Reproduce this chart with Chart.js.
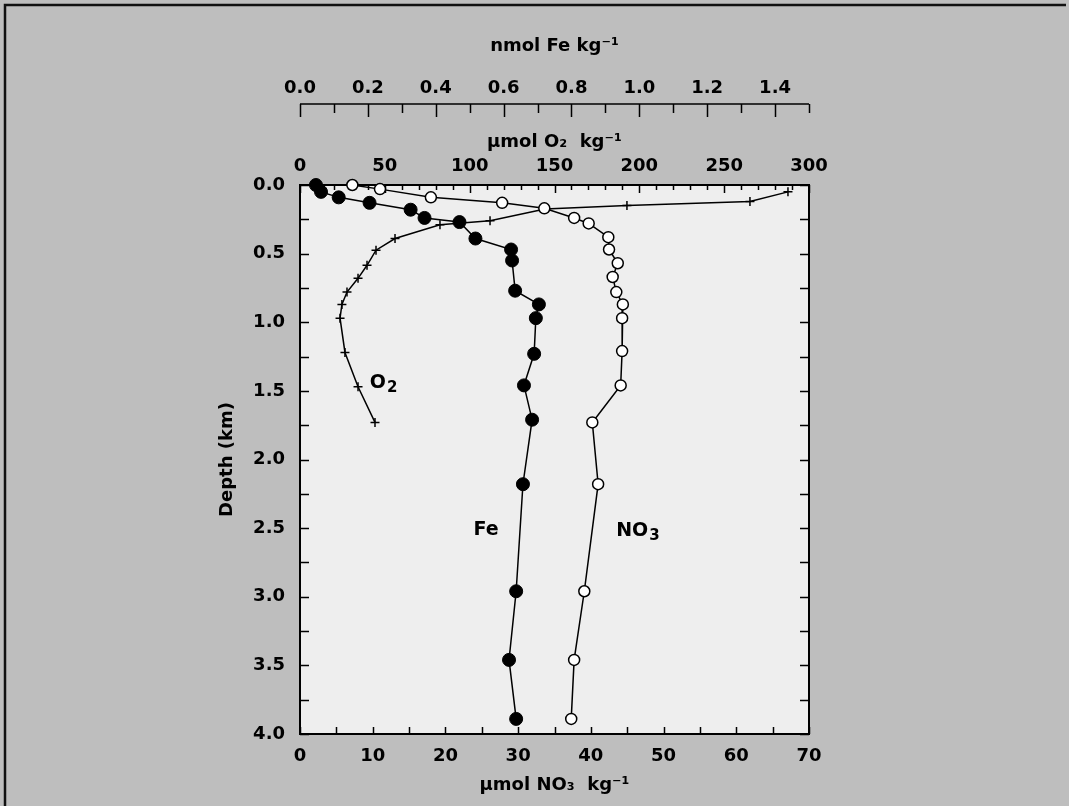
<!DOCTYPE html>
<html>
<head>
<meta charset="utf-8">
<script src="https://cdn.jsdelivr.net/npm/chart.js@4.4.1/dist/chart.umd.min.js"></script>
<style>
  html, body { margin: 0; padding: 0; background: #bebebe; }
  #wrap { width: 1069px; height: 806px; position: relative; }
</style>
</head>
<body>
<div id="wrap"><canvas id="c"></canvas></div>
<script>
// ---------- data ----------
const depthTicks = [0, 0.5, 1, 1.5, 2, 2.5, 3, 3.5, 4];
const no3Ticks = [0, 10, 20, 30, 40, 50, 60, 70];
const o2Ticks = [0, 50, 100, 150, 200, 250, 300];
const feTicks = [0, 0.2, 0.4, 0.6, 0.8, 1.0, 1.2, 1.4];

// Fe (nmol/kg) vs depth (km)
const feDepth  = [0.00, 0.05, 0.09, 0.13, 0.18, 0.24, 0.27, 0.39, 0.47, 0.55, 0.77, 0.87, 0.97, 1.23, 1.46, 1.71, 2.18, 2.96, 3.46, 3.89];
const feValues = [0.047, 0.062, 0.114, 0.205, 0.326, 0.367, 0.470, 0.517, 0.622, 0.625, 0.634, 0.704, 0.695, 0.690, 0.660, 0.684, 0.657, 0.637, 0.616, 0.637];

// NO3 (umol/kg) vs depth (km)
const no3Depth  = [0.00, 0.03, 0.09, 0.13, 0.17, 0.24, 0.28, 0.38, 0.47, 0.57, 0.67, 0.78, 0.87, 0.97, 1.21, 1.46, 1.73, 2.18, 2.96, 3.46, 3.89];
const no3Values = [7.2, 11.0, 18.0, 27.8, 33.6, 37.7, 39.7, 42.4, 42.5, 43.7, 43.0, 43.5, 44.4, 44.3, 44.3, 44.1, 40.2, 41.0, 39.1, 37.7, 37.3];

// O2 (umol/kg) vs depth (km)
const o2Depth  = [0.05, 0.12, 0.15, 0.175, 0.26, 0.29, 0.39, 0.475, 0.585, 0.68, 0.78, 0.87, 0.97, 1.22, 1.47, 1.73];
const o2Values = [287.6, 265.2, 192.7, 144.4, 112.0, 82.5, 56.0, 44.8, 39.5, 34.2, 27.7, 24.7, 23.6, 26.5, 34.2, 44.2];

// ---------- helpers ----------
const FONT = 'DejaVu Sans';
const tickFont = { family: FONT, size: 18, weight: 'bold' };
const titleFont = { family: FONT, size: 18, weight: 'bold' };
const pts = (xs, ys) => xs.map((v, i) => ({ x: v, y: ys[i] }));

function drawSubText(ctx, cx, cy, base, sub, size) {
  ctx.save();
  ctx.fillStyle = '#000';
  ctx.textBaseline = 'middle';
  ctx.textAlign = 'left';
  ctx.font = `bold ${size}px "${FONT}"`;
  const wb = ctx.measureText(base).width;
  ctx.font = `bold ${Math.round(size * 0.8)}px "${FONT}"`;
  const ws = ctx.measureText(sub).width;
  const x0 = cx - (wb + ws) / 2;
  ctx.font = `bold ${size}px "${FONT}"`;
  ctx.fillText(base, x0, cy);
  ctx.font = `bold ${Math.round(size * 0.8)}px "${FONT}"`;
  ctx.fillText(sub, x0 + wb + 1, cy + size * 0.3);
  ctx.restore();
}

const decor = {
  id: 'decor',
  beforeDraw(chart) {
    const { ctx, chartArea: a, width, height } = chart;
    ctx.save();
    ctx.fillStyle = '#bebebe';
    ctx.fillRect(0, 0, width, height);
    ctx.fillStyle = '#eeeeee';
    ctx.fillRect(a.left, a.top, a.right - a.left, a.bottom - a.top);
    // outer picture frame (top + left dark edges)
    ctx.strokeStyle = '#111';
    ctx.lineWidth = 2.5;
    ctx.beginPath();
    ctx.moveTo(5, height);
    ctx.lineTo(5, 5);
    ctx.lineTo(width - 3, 5);
    ctx.stroke();
    ctx.restore();
  },
  beforeDatasetsDraw(chart) {
    const { ctx, chartArea: a, scales } = chart;
    const y = scales.y, xN = scales.x, xO = scales.xO2, xF = scales.xFe;
    ctx.save();
    ctx.strokeStyle = '#000';
    ctx.lineWidth = 1.5;
    ctx.beginPath();
    // left / right inner ticks every 0.25 km
    for (let d = 0; d <= 4.0001; d += 0.25) {
      const py = Math.round(y.getPixelForValue(d)) + 0.5;
      ctx.moveTo(a.left, py); ctx.lineTo(a.left + 9, py);
      ctx.moveTo(a.right, py); ctx.lineTo(a.right - 9, py);
    }
    // bottom inner ticks every 5 NO3
    for (let v = 0; v <= 70.001; v += 5) {
      const px = Math.round(xN.getPixelForValue(v)) + 0.5;
      ctx.moveTo(px, a.bottom); ctx.lineTo(px, a.bottom - 7);
    }
    // top inner ticks every 10 O2, longer at 50
    for (let v = 0; v <= 300.001; v += 10) {
      const px = Math.round(xO.getPixelForValue(v)) + 0.5;
      const len = (Math.round(v) % 50 === 0) ? 8 : 5;
      ctx.moveTo(px, a.top); ctx.lineTo(px, a.top + len);
    }
    ctx.stroke();
    // plot frame
    ctx.lineWidth = 2;
    ctx.strokeRect(a.left, a.top, a.right - a.left, a.bottom - a.top);

    // Fe axis line and downward ticks
    const lineY = 104;
    ctx.lineWidth = 1.5;
    ctx.beginPath();
    ctx.moveTo(xF.getPixelForValue(0), lineY);
    ctx.lineTo(xF.getPixelForValue(1.5), lineY);
    for (let i = 0; i <= 15; i++) {
      const px = Math.round(xF.getPixelForValue(i / 10)) + 0.5;
      const len = (i % 2 === 0) ? 13 : 9;
      ctx.moveTo(px, lineY); ctx.lineTo(px, lineY + len);
    }
    ctx.stroke();
    ctx.restore();
  },
  afterDatasetsDraw(chart) {
    const { ctx, scales } = chart;
    const y = scales.y, xN = scales.x, xO = scales.xO2;
    // in-plot curve labels
    drawSubText(ctx, xO.getPixelForValue(49), y.getPixelForValue(1.44), 'O', '2', 19);
    ctx.save();
    ctx.fillStyle = '#000';
    ctx.font = `bold 19px "${FONT}"`;
    ctx.textAlign = 'center';
    ctx.textBaseline = 'middle';
    ctx.fillText('Fe', xN.getPixelForValue(25.6), y.getPixelForValue(2.515));
    ctx.restore();
    drawSubText(ctx, xN.getPixelForValue(46.4), y.getPixelForValue(2.52), 'NO', '3', 19);
  }
};

const common = { clip: false, showLine: true, borderColor: '#000', borderWidth: 1.5, tension: 0 };

new Chart(document.getElementById('c'), {
  type: 'scatter',
  data: {
    datasets: [
      Object.assign({}, common, {
        label: 'Fe', data: pts(feValues, feDepth), xAxisID: 'xFe', yAxisID: 'y',
        pointStyle: 'circle', pointRadius: 6.5, pointBackgroundColor: '#000', pointBorderColor: '#000', pointBorderWidth: 1
      }),
      Object.assign({}, common, {
        label: 'NO3', data: pts(no3Values, no3Depth), xAxisID: 'x', yAxisID: 'y',
        pointStyle: 'circle', pointRadius: 5.5, pointBackgroundColor: '#ffffff', pointBorderColor: '#000', pointBorderWidth: 1.5
      }),
      Object.assign({}, common, {
        label: 'O2', data: pts(o2Values, o2Depth), xAxisID: 'xO2', yAxisID: 'y',
        pointStyle: 'cross', pointRadius: 4.5, pointBorderColor: '#000', pointBorderWidth: 1.5
      })
    ]
  },
  options: {
    responsive: true,
    maintainAspectRatio: false,
    devicePixelRatio: 1,
    animation: false,
    events: [],
    layout: { padding: { top: 36, left: 217, right: 260, bottom: 10 } },
    plugins: { legend: { display: false }, tooltip: { enabled: false } },
    scales: {
      y: {
        type: 'linear', position: 'left', reverse: true, min: 0, max: 4,
        afterBuildTicks: s => { s.ticks = depthTicks.map(v => ({ value: v })); },
        afterFit: s => { s.width = 83; },
        ticks: { font: tickFont, color: '#000', padding: 7, callback: v => Number(v).toFixed(1) },
        grid: { display: false }, border: { display: false },
        title: { display: true, text: 'Depth (km)', font: titleFont, color: '#000', padding: 0 }
      },
      x: {
        type: 'linear', axis: 'x', position: 'bottom', min: 0, max: 70,
        afterBuildTicks: s => { s.ticks = no3Ticks.map(v => ({ value: v })); },
        afterFit: s => { s.height = 62; },
        ticks: { font: tickFont, color: '#000', padding: 4, maxRotation: 0, autoSkip: false, callback: v => String(v) },
        grid: { display: false }, border: { display: false },
        title: { display: true, text: 'μmol NO₃  kg⁻¹', font: titleFont, color: '#000', padding: 0 }
      },
      xO2: {
        type: 'linear', axis: 'x', position: 'top', min: 0, max: 300, weight: 1,
        afterBuildTicks: s => { s.ticks = o2Ticks.map(v => ({ value: v })); },
        afterFit: s => { s.height = 53; },
        ticks: { font: tickFont, color: '#000', padding: 0, maxRotation: 0, autoSkip: false, callback: v => String(v) },
        grid: { display: false }, border: { display: false },
        title: { display: true, text: 'μmol O₂  kg⁻¹', font: titleFont, color: '#000', padding: 0 }
      },
      xFe: {
        type: 'linear', axis: 'x', position: 'top', min: 0, max: 1.5, weight: 2,
        afterBuildTicks: s => { s.ticks = feTicks.map(v => ({ value: v })); },
        afterFit: s => { s.height = 96; },
        ticks: { font: tickFont, color: '#000', padding: 25, maxRotation: 0, autoSkip: false, callback: v => Number(v).toFixed(1) },
        grid: { display: false }, border: { display: false },
        title: { display: true, text: 'nmol Fe kg⁻¹', font: titleFont, color: '#000', padding: 0 }
      }
    }
  },
  plugins: [decor]
});
</script>
</body>
</html>
